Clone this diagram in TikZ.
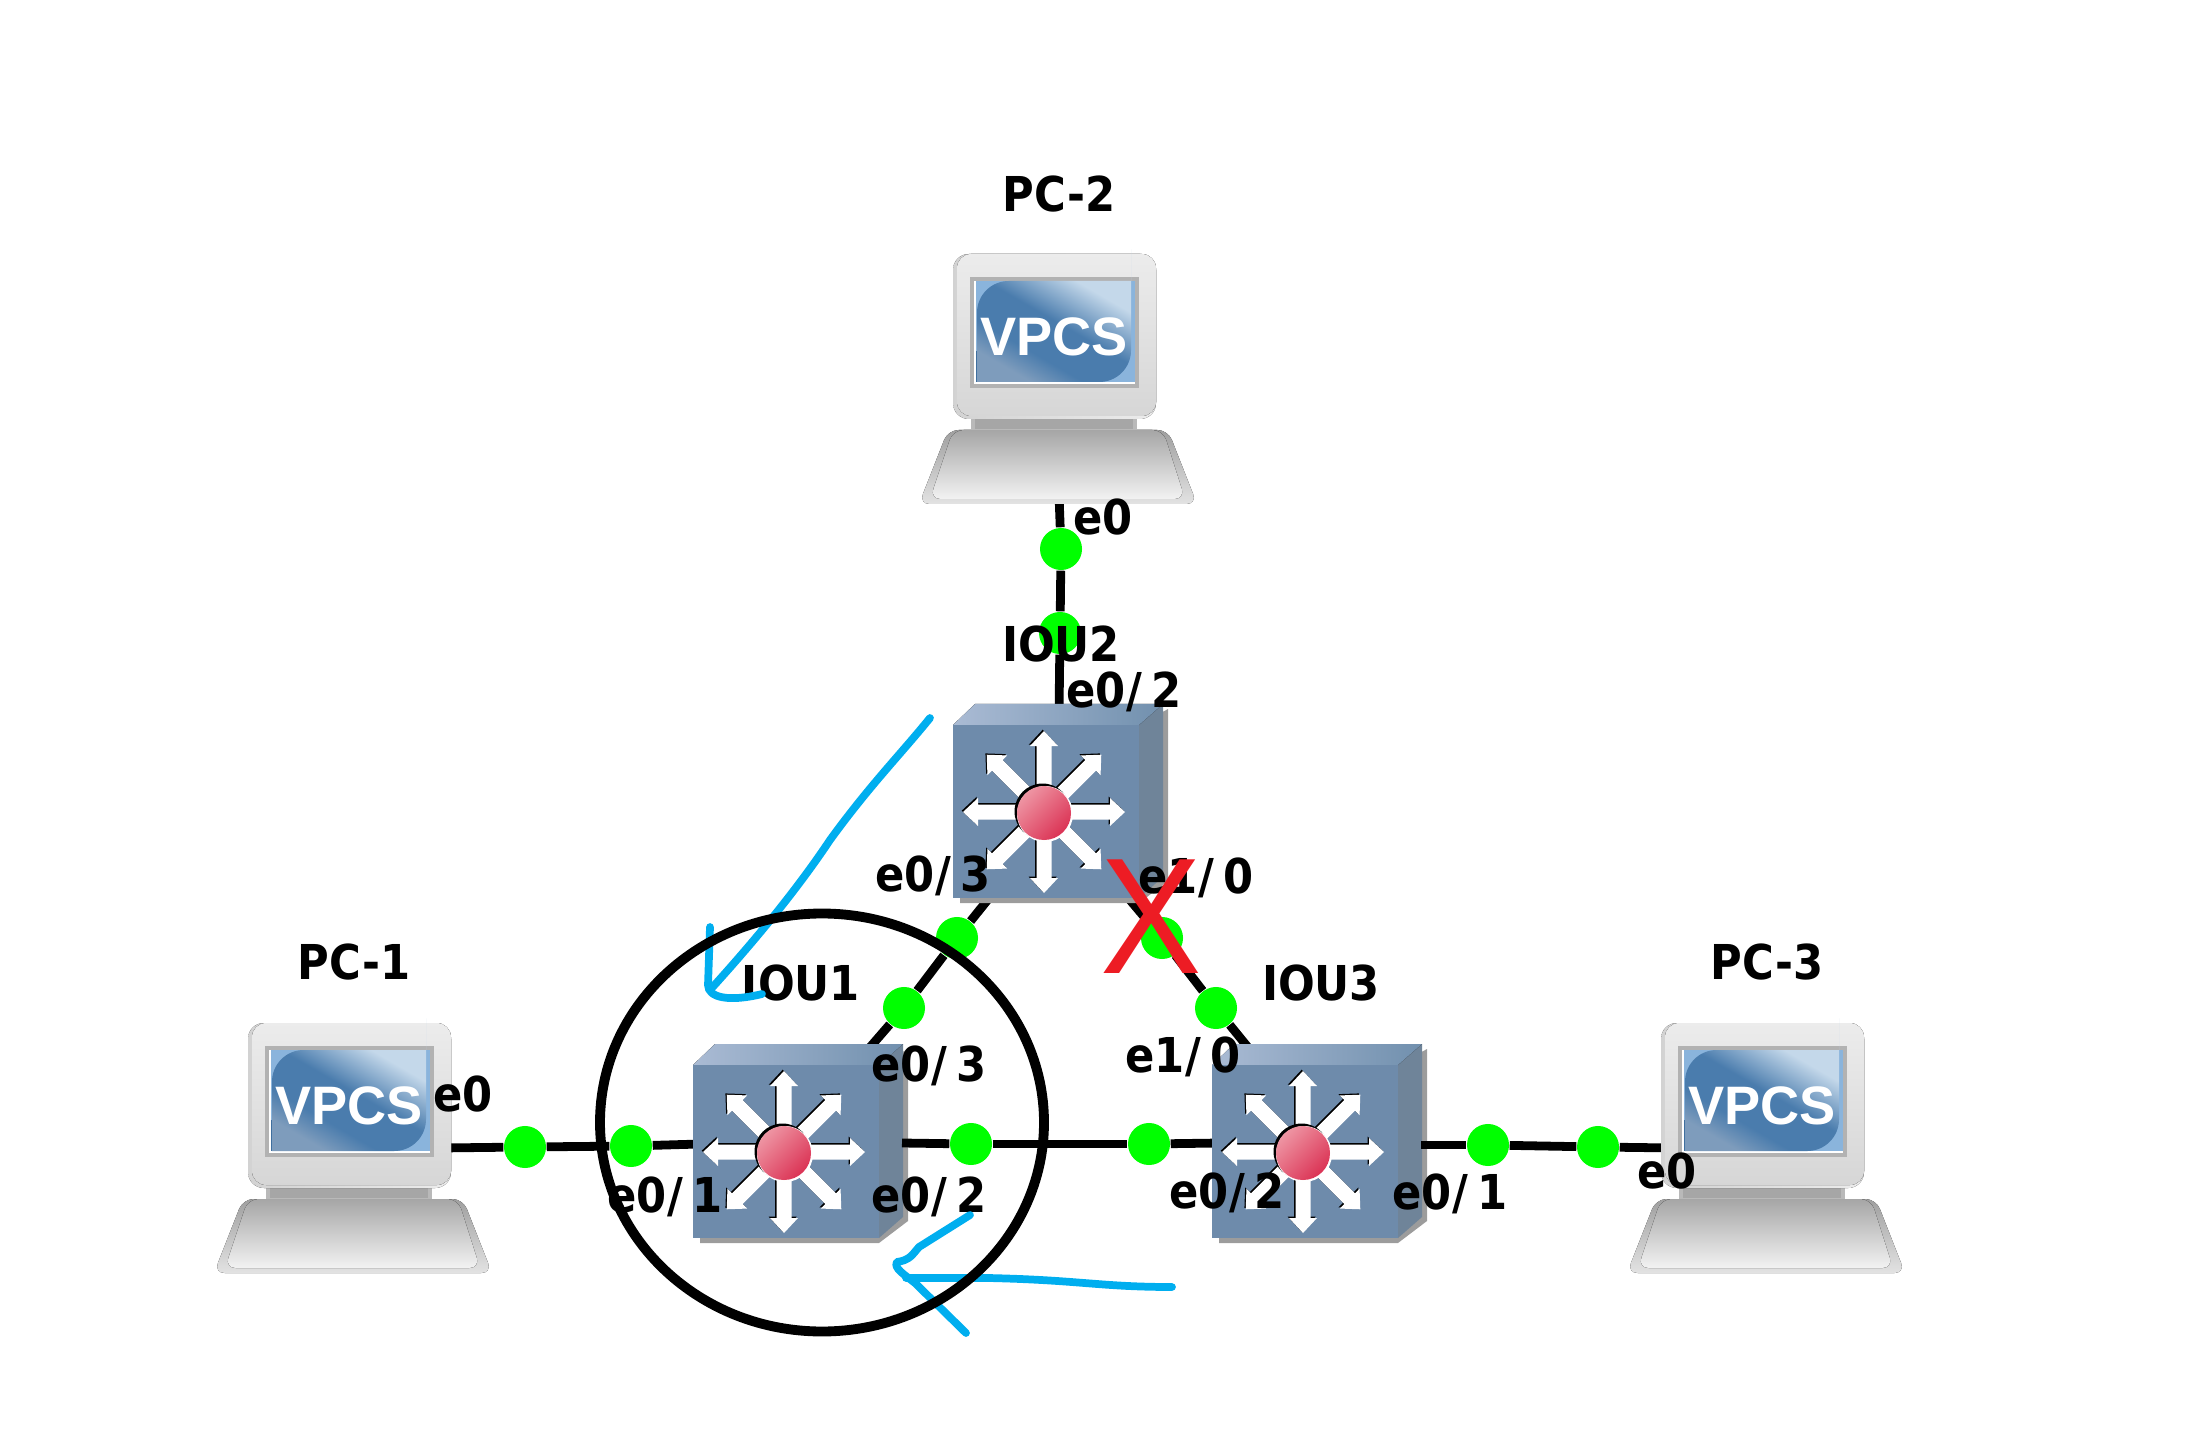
\documentclass[tikz,border=0pt]{standalone}
\usepackage{fontspec}
\setmainfont{Liberation Sans}
\newfontfamily\lblfont{DejaVu Sans}[FakeStretch=0.9]
\newcommand{\portsl}{/\kern2.7pt}
\definecolor{swfront}{HTML}{6E8BAB}
\definecolor{swside}{HTML}{6F8499}
\definecolor{swshadow}{HTML}{9C9C9C}
\definecolor{swtopl}{HTML}{AABBD4}
\definecolor{swtopr}{HTML}{7190AE}
\definecolor{penblue}{HTML}{00AEEF}
\definecolor{crossred}{HTML}{ED1C24}
\definecolor{portgreen}{HTML}{00FF00}
\definecolor{scrblue}{HTML}{4A7CAD}
\definecolor{scrcorner}{HTML}{8AB4DC}
\definecolor{scrlow}{HTML}{3F6F9F}
\definecolor{scrsoft}{HTML}{7E9CBC}
\definecolor{scrglow}{HTML}{C4D8EA}
\definecolor{ballhi}{HTML}{EE95A3}
\definecolor{balllo}{HTML}{DB3355}
\pgfdeclarehorizontalshading{glass}{100bp}{color(0bp)=(scrsoft); color(27bp)=(scrsoft); color(38bp)=(scrblue); color(54bp)=(scrblue); color(73bp)=(scrglow); color(100bp)=(scrglow)}
\tikzset{
  lbl/.style={font=\lblfont\bfseries\fontsize{13.66pt}{16pt}\selectfont,anchor=base,inner sep=0pt},
  link/.style={draw=black,line width=2.5pt},
  portdot/.style={circle,fill=portgreen,minimum size=0.42cm,inner sep=0pt},
  pen/.style={draw=penblue,line width=2.2pt,line cap=round,line join=round},
  vpcs/.pic={
    % base
    \fill[top color=gray!75,bottom color=gray!22,rounded corners=3pt]
      (-107,99) -- (113,99) -- (142,173) -- (-136,173) -- cycle;
    \fill[top color=gray!70,bottom color=gray!10,rounded corners=3pt]
      (-102,99) -- (108,99) -- (130,168) -- (-125,168) -- cycle;
    \fill[gray!55] (-84,86) rectangle (82,99);
    \fill[gray!70] (-80,86) rectangle (78,98);
    % monitor
    \fill[left color=gray!35,right color=gray!15,rounded corners=4.5pt] (-102,-77) rectangle (101,88);
    \fill[top color=gray!15,bottom color=gray!32,rounded corners=4pt] (-98,-77) rectangle (101,85);
    \fill[gray!60] (-85,-54) rectangle (84,57);
    \fill[white] (-81,-50) rectangle (80,53);
    % screen
    \fill[scrcorner] (-79,-50) rectangle (80,51);
    \fill[scrlow] (-79,51) rectangle (-40,20);
    \shade[shading=glass,shading angle=60]
      [rounded corners=9pt] (-78,51) -- (-78,-50) [sharp corners] -- (76,-50) [rounded corners=9pt] -- (76,-50) -- (76,51) [sharp corners] -- cycle;
    \node[font=\bfseries\fontsize{15.4pt}{18pt}\selectfont,text=white,inner sep=0pt] (text) at (-1,6) {VPCS};
  },
  switch/.pic={
    \fill[swshadow] (-84,91) -- (95,91) -- (124,69) -- (124,-103) -- (95,-87) -- (-84,-87) -- cycle;
    \fill[swside] (95,-87) -- (119,-108) -- (119,65) -- (95,86) -- cycle;
    \fill[left color=swtopl,right color=swtopr] (-91,-87) -- (-69,-108) -- (119,-108) -- (95,-87) -- cycle;
    \fill[swfront] (-91,-87) rectangle (95,86);
    \foreach \a in {0,45,...,315} {
      \fill[black,shift={(-1.3,-1.3)},rotate=\a]
        (20,-7.5) -- (66,-7.5) -- (66,-14) -- (81,0) -- (66,14) -- (66,7.5) -- (20,7.5) -- cycle;
    }
    \foreach \a in {0,45,...,315} {
      \fill[white,rotate=\a]
        (20,-7.5) -- (66,-7.5) -- (66,-14) -- (81,0) -- (66,14) -- (66,7.5) -- (20,7.5) -- cycle;
    }
    \fill[black] (-1.5,-0.5) circle (28);
    \fill[white] (1,2) circle (28);
    \shade[left color=ballhi,right color=balllo,shading angle=45] (0,1) circle (27);
  }
}
\begin{document}
\begin{tikzpicture}[x=0.01cm,y=-0.01cm]
  \useasboundingbox (0,0) rectangle (2188,1431);
  \coordinate (pc1port) at (440,1148);
  \coordinate (iou1west) at (700,1144);
  \coordinate (iou1east) at (902,1143);
  \coordinate (iou1north) at (865,1053);
  \coordinate (iou2south) at (998,887);
  \coordinate (iou2north) at (1059,715);
  \coordinate (iou2east) at (1119,887);
  \coordinate (pc2port) at (1059,495);
  \coordinate (iou3north) at (1255,1056);
  \coordinate (iou3west) at (1220,1143);
  \coordinate (iou3east) at (1421,1145);
  \coordinate (pc3port) at (1675,1148);

  \node[portdot] (pc1dot) at (525,1147) {};
  \node[portdot] (iou1wdot) at (631,1146) {};
  \node[portdot] (iou1edot) at (971,1144) {};
  \node[portdot] (iou3wdot) at (1149,1144) {};
  \node[portdot] (iou1ndot) at (904,1008) {};
  \node[portdot] (iou2wdot) at (957,938) {};
  \node[portdot] (iou2edot) at (1162,938) {};
  \node[portdot] (iou3ndot) at (1216,1008) {};
  \node[portdot] (pc2dot) at (1061,549) {};
  \node[portdot] (iou2ndot) at (1060,633) {};
  \node[portdot] (iou3edot) at (1488,1145) {};
  \node[portdot] (pc3dot) at (1598,1147) {};

  \begin{scope}[link]
    \draw (pc1port) -- (pc1dot);
    \draw (pc1dot) -- (iou1wdot);
    \draw (iou1wdot) -- (iou1west);
    \draw (iou1edot) -- (iou3wdot);
    \draw (iou3wdot) -- (iou3west);
    \draw (iou1north) -- (iou1ndot);
    \draw (iou1ndot) -- (iou2wdot);
    \draw (iou2wdot) -- (iou2south);
    \draw (iou2east) -- (iou2edot);
    \draw (iou2edot) -- (iou3ndot);
    \draw (iou3ndot) -- (iou3north);
    \draw (pc2port) -- (pc2dot);
    \draw (pc2dot) -- (iou2ndot);
    \draw (iou2ndot) -- (iou2north);
    \draw (iou3edot) -- (pc3dot);
    \draw (pc3dot) -- (pc3port);
  \end{scope}

  \pic (pc1) at (350,1100) {vpcs};
  \pic (pc2) at (1055,331) {vpcs};
  \pic (pc3) at (1763,1100) {vpcs};
  \pic (iou1) at (784,1152) {switch};
  \pic (iou2) at (1044,812) {switch};
  \pic (iou3) at (1303,1152) {switch};

  \begin{scope}[link]
    \draw (iou1east) -- (iou1edot);
    \draw (iou3east) -- (iou3edot);
  \end{scope}

  \node[lbl] (pc1name) at (354,979) {PC-1};
  \node[lbl] (pc2name) at (1059,212) {PC-2};
  \node[lbl] (pc3name) at (1767,979) {PC-3};
  \node[lbl] (iou1name) at (801,1000) {IOU1};
  \node[lbl] (iou2name) at (1061,662) {IOU2};
  \node[lbl] (iou3name) at (1321,1000) {IOU3};
  \node[lbl] (pc1e0) at (463,1111) {e0};
  \node[lbl] (pc2e0) at (1103,535) {e0};
  \node[lbl] (pc3e0) at (1667,1188) {e0};
  \node[lbl] (iou1e01) at (665,1212) {e0\portsl 1};
  \node[lbl] (iou1e02) at (929,1212) {e0\portsl 2};
  \node[lbl] (iou1e03) at (929,1081) {e0\portsl 3};
  \node[lbl] (iou2e02) at (1124,707) {e0\portsl 2};
  \node[lbl] (iou2e03) at (933,891) {e0\portsl 3};
  \node[lbl] (iou2e10) at (1196,893) {e1\portsl 0};
  \node[lbl] (iou3e10) at (1183,1072) {e1\portsl 0};
  \node[lbl] (iou3e02) at (1227,1208) {e0\portsl 2};
  \node[lbl] (iou3e01) at (1450,1209) {e0\portsl 1};

  % hand drawn marks
  \draw[pen] (930,718) .. controls (900,755) and (870,785) .. (830,840) .. controls (800,885) and (760,935) .. (710,990);
  \draw[pen] (710,927) -- (708,985) .. controls (708,998) and (730,1002) .. (762,994);
  \draw[pen] (1172,1287) .. controls (1100,1287) and (1080,1280) .. (988,1278) -- (906,1278);
  \draw[pen] (970,1215) -- (919,1247) .. controls (912,1255) and (910,1260) .. (897,1262) .. controls (893,1268) and (905,1275) .. (915,1283) -- (966,1333);

  \draw[black,line width=2.8pt] (822,1122.5) ellipse (222 and 209);

  \node[text=crossred,font=\fontsize{47pt}{50pt}\selectfont,inner sep=0pt,xscale=0.92] (downmark) at (1151,917) {X};
\end{tikzpicture}
\end{document}
